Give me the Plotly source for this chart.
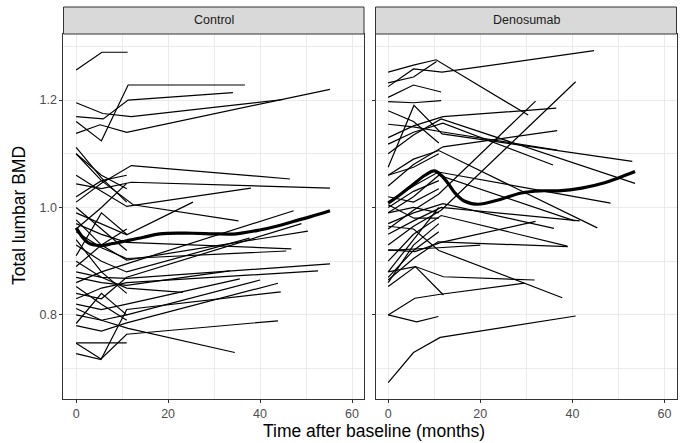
import plotly.graph_objects as go

# ---------------- data ----------------
ctrl_t = [
    [0, 5.6, 11.2], [0, 5.5, 11.3, 36.7], [0, 5.9, 11.3, 34.1], [0, 5.8, 12, 45],
    [0, 5.2, 11, 55.2], [0, 5.5, 12, 46.5], [0, 5.5, 12, 55.2], [0, 5.5, 11, 38],
    [0, 5.5, 11, 25.4], [0, 5.5, 12.4, 35.3], [0, 5.5, 11.3, 47.3], [0, 5.5, 11, 49],
    [0, 5.5, 11, 50.4], [0, 5.5, 11, 46.8], [0, 5.5, 11, 45.7], [0, 5.5, 11, 37.7],
    [0, 5.5, 11, 55.2], [0, 5.5, 11, 52.6], [0, 5.5, 11, 35.6], [0, 5.5, 11, 33.4],
    [0, 5.5, 11, 40], [0, 5.5, 11, 43.9], [0, 5.4, 11, 44.5], [0, 5.4, 11, 43.9],
    [0, 5.5, 11.3, 34.5], [0, 5.5, 11], [0, 5.5, 11], [0, 5.5, 11],
    [0, 5.5, 11], [0, 5.5, 11], [0, 5.5, 11], [0, 5.5, 11],
    [0, 5.5, 11], [0, 5.5, 11], [0, 5.5, 11], [0, 5.5, 11], [0, 5.5, 11, 23.2],
]
ctrl_v = [
    [1.256, 1.289, 1.289], [1.160, 1.124, 1.228, 1.228], [1.169, 1.165, 1.200, 1.214], [1.195, 1.175, 1.169, 1.201],
    [1.138, 1.154, 1.140, 1.220], [1.010, 1.045, 1.078, 1.053], [1.044, 1.035, 1.047, 1.036], [1.060, 1.030, 1.002, 1.036],
    [0.990, 0.970, 0.949, 1.010], [1.100, 1.050, 1.005, 0.975], [0.860, 0.880, 0.896, 0.994], [0.840, 0.830, 0.870, 0.970],
    [0.977, 0.930, 0.902, 0.956], [0.970, 0.950, 0.935, 0.923], [0.955, 0.925, 0.905, 0.919], [0.930, 0.900, 0.880, 0.943],
    [0.880, 0.870, 0.868, 0.895], [0.830, 0.850, 0.860, 0.882], [0.820, 0.810, 0.820, 0.867], [0.870, 0.860, 0.855, 0.882],
    [0.800, 0.790, 0.800, 0.865], [0.780, 0.770, 0.785, 0.859], [0.728, 0.717, 0.810, 0.843], [0.747, 0.718, 0.764, 0.789],
    [0.812, 0.790, 0.775, 0.730], [0.748, 0.748, 0.748], [1.112, 1.055, 1.010], [1.100, 1.060, 1.035],
    [1.020, 1.050, 1.060], [0.960, 1.000, 1.045], [0.910, 0.990, 0.950], [1.000, 0.960, 0.920],
    [0.940, 0.880, 0.840], [0.890, 0.930, 0.960], [0.853, 0.820, 0.790], [0.784, 0.840, 0.800], [0.900, 0.870, 0.850, 0.842],
]

deno_t = [
    [0, 5.5, 10.4, 30.4], [0, 5.5, 11.7, 44.7], [0, 5.5, 10.5], [0, 5.5, 11.5],
    [0, 5.5, 11.5], [0, 5.5, 11.9, 36.5], [0, 5.6, 11.7, 53], [0, 5.5, 11.5, 53.6],
    [0, 5.5, 11.9, 36.7], [0, 5.5, 11.5, 36.7], [0, 5.5, 11.9, 35.8], [0, 5.5, 10.9, 48.3],
    [0, 5.5, 11.9, 36], [0, 5.5, 11.5, 41.6], [0, 5.5, 11, 45.4], [0, 5.5, 11, 32],
    [0, 5.5, 11.5, 40.7], [0, 5.8, 11.5, 32], [0, 5.5, 10.8, 39], [0, 5.9, 12, 31.8],
    [0, 5.9, 12], [0, 5.8, 11, 29.6], [0, 6.2, 10.9], [0, 5.5, 11.3, 40.7],
    [0, 5.5, 11, 37.8], [0, 5.5, 11.5, 38.9], [0, 5.5, 11], [0, 5.5, 11],
    [0, 5.5, 11], [0, 5.5, 11], [0, 5.5, 11], [0, 5.5, 11],
    [0, 5.5, 11], [0, 5.5, 11], [0, 5.5, 11, 40.5], [0, 5.6, 11], [0, 5.5, 11, 20],
]
deno_v = [
    [1.252, 1.265, 1.275, 1.172], [1.225, 1.258, 1.252, 1.292], [1.232, 1.243, 1.272], [1.205, 1.228, 1.215],
    [1.197, 1.195, 1.199], [1.130, 1.152, 1.169, 1.185], [1.075, 1.190, 1.137, 1.086], [1.100, 1.135, 1.165, 1.045],
    [1.040, 1.080, 1.113, 1.143], [1.155, 1.150, 1.141, 1.107], [1.118, 1.140, 1.157, 1.079], [1.010, 1.040, 1.066, 1.008],
    [0.970, 0.990, 1.007, 0.961], [0.950, 0.975, 1.000, 0.975], [1.060, 1.090, 1.106, 0.962], [0.960, 0.995, 1.025, 1.198],
    [0.930, 0.965, 0.995, 1.234], [0.921, 0.918, 0.935, 0.974], [0.865, 0.905, 0.936, 0.927], [0.853, 0.890, 0.871, 0.865],
    [0.880, 0.890, 0.837], [0.800, 0.831, 0.838, 0.859], [0.800, 0.787, 0.797], [0.674, 0.730, 0.758, 0.798],
    [0.965, 0.960, 0.920, 0.832], [0.900, 0.950, 0.985, 0.928], [1.000, 1.030, 1.050], [1.020, 1.010, 1.035],
    [0.990, 1.000, 0.990], [1.180, 1.160, 1.120], [1.060, 1.075, 1.100], [0.880, 0.940, 1.000],
    [0.860, 0.930, 0.970], [0.870, 0.920, 0.955], [0.990, 1.020, 1.060, 0.975], [1.005, 0.980, 0.980],
    [0.920, 0.922, 0.925, 0.930],
]

ctrl_smooth_t = [0, 2.5, 5.2, 8, 11, 14.5, 18.2, 25.4, 30, 34.8, 39.9, 44, 47.2, 51, 55.2]
ctrl_smooth_v = [0.962, 0.935, 0.929, 0.933, 0.938, 0.944, 0.951, 0.952, 0.951, 0.951, 0.958, 0.966, 0.974, 0.983, 0.994]
deno_smooth_t = [0, 2, 5, 8, 10, 11.5, 13, 14.5, 16.5, 19.5, 23.9, 28.9, 33, 36.9, 42, 47, 50, 53.6]
deno_smooth_v = [1.008, 1.02, 1.04, 1.06, 1.068, 1.06, 1.045, 1.027, 1.012, 1.006, 1.014, 1.027, 1.031, 1.031, 1.036, 1.046, 1.055, 1.067]

panel_names = ["Control", "Denosumab"]
x_ticks = [0, 20, 40, 60]
y_ticks = [0.8, 1.0, 1.2]

# ---------------- figure ----------------
FONT = "Liberation Sans, Arial"
fig = go.Figure()
for xa, ya, ts, vs in [("x", "y", ctrl_t, ctrl_v), ("x2", "y2", deno_t, deno_v)]:
    for t, v in zip(ts, vs):
        fig.add_trace(go.Scatter(x=t, y=v, mode="lines", xaxis=xa, yaxis=ya,
                                 line=dict(color="black", width=1.2), showlegend=False,
                                 hoverinfo="skip"))
fig.add_trace(go.Scatter(x=ctrl_smooth_t, y=ctrl_smooth_v, mode="lines", xaxis="x", yaxis="y",
                         line=dict(color="black", width=3.2, shape="spline"), showlegend=False))
fig.add_trace(go.Scatter(x=deno_smooth_t, y=deno_smooth_v, mode="lines", xaxis="x2", yaxis="y2",
                         line=dict(color="black", width=3.2, shape="spline"), showlegend=False))

W, H = 687, 443
ml, mr, mt, mb = 63, 10, 7, 44
pw, ph = W - ml - mr, H - mt - mb
ytop = (399 - 34) / ph
dl = [0.0008, (364 - ml) / pw]
dr = [(375.5 - ml) / pw, (676.5 - ml) / pw]

grid = "#EBEBEB"
tickfont = dict(family=FONT, size=12.5, color="#4D4D4D")
xcommon = dict(range=[-2.75, 62.6], tickvals=x_ticks, ticks="outside", ticklen=3,
               tickcolor="#333333", showline=True, mirror=True, linecolor="#333333", linewidth=1,
               showgrid=True, gridcolor=grid, gridwidth=1.1, zeroline=False, tickfont=tickfont,
               minor=dict(tickvals=[10, 30, 50], showgrid=True, gridcolor=grid, gridwidth=0.6, ticks=""))
ycommon = dict(range=[0.6434, 1.323], tickvals=y_ticks, ticktext=["0.8", "1.0", "1.2"],
               ticks="outside", ticklen=3, tickcolor="#333333", showline=True, mirror=True,
               linecolor="#333333", linewidth=1, showgrid=True, gridcolor=grid, gridwidth=1.1,
               zeroline=False, domain=[0, ytop], tickfont=tickfont,
               minor=dict(tickvals=[0.7, 0.9, 1.1, 1.3], showgrid=True, gridcolor=grid, gridwidth=0.6, ticks=""))

fig.update_layout(
    width=W, height=H, margin=dict(l=ml, r=mr, t=mt, b=mb),
    paper_bgcolor="white", plot_bgcolor="white",
    xaxis=dict(domain=dl, anchor="y", **xcommon),
    xaxis2=dict(domain=dr, anchor="y2", **xcommon),
    yaxis=dict(anchor="x", **ycommon),
    yaxis2=dict(anchor="x2", showticklabels=False, **ycommon),
    font=dict(family=FONT, color="black"),
)

shapes = []
annotations = []
for d, name in zip([dl, dr], panel_names):
    shapes.append(dict(type="rect", xref="paper", yref="paper", x0=d[0], x1=d[1], y0=ytop, y1=1,
                       fillcolor="#D9D9D9", line=dict(color="#333333", width=1), layer="above"))
    annotations.append(dict(text=name, xref="paper", yref="paper", x=(d[0] + d[1]) / 2,
                            y=(ytop + 1) / 2, showarrow=False, xanchor="center", yanchor="middle",
                            font=dict(size=12.5, color="#1A1A1A", family=FONT)))
annotations.append(dict(text="Time after baseline (months)", xref="paper", yref="paper",
                        x=(374 - ml) / pw, y=-(431 - 399) / ph, showarrow=False,
                        xanchor="center", yanchor="middle",
                        font=dict(size=17.5, color="black", family=FONT)))
annotations.append(dict(text="Total lumbar BMD", xref="paper", yref="paper",
                        x=-(63 - 19) / pw, y=(399 - 216) / ph, showarrow=False, textangle=-90,
                        xanchor="center", yanchor="middle",
                        font=dict(size=17.5, color="black", family=FONT)))
fig.update_layout(shapes=shapes, annotations=annotations)

fig.write_html("out.html")
